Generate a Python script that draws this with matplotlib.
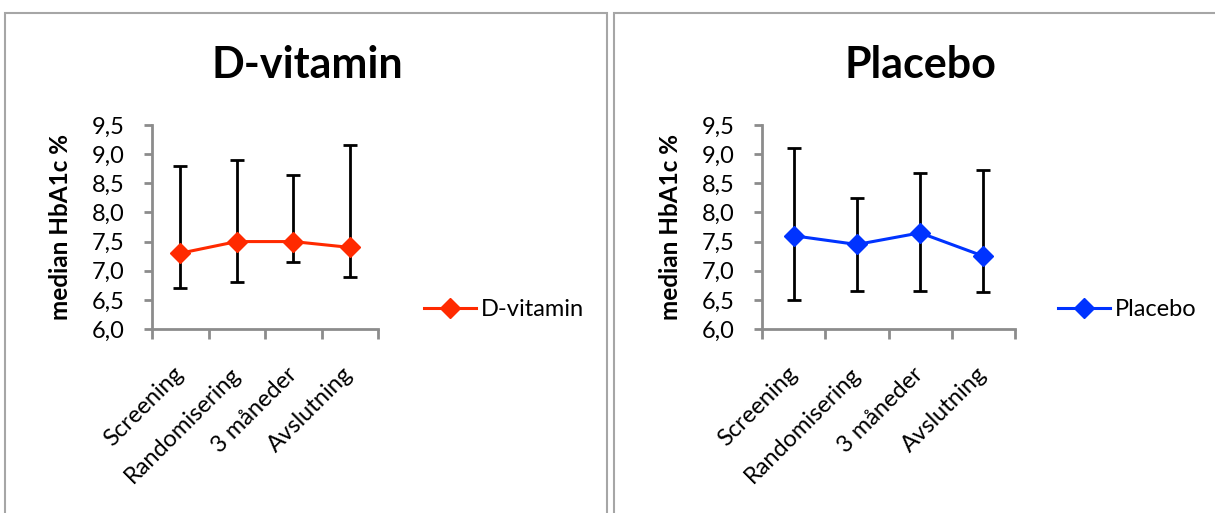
import matplotlib.pyplot as plt
from matplotlib.patches import Rectangle
from matplotlib.ticker import FuncFormatter

plt.rcParams['font.family'] = ['Lato', 'DejaVu Sans']

# Data
categories = ['Screening', 'Randomisering', '3 måneder', 'Avslutning']

dvit_median = [7.3, 7.5, 7.5, 7.4]
dvit_upper = [8.8, 8.9, 8.65, 9.15]
dvit_lower = [6.7, 6.8, 7.15, 6.9]

plac_median = [7.6, 7.45, 7.65, 7.25]
plac_upper = [9.1, 8.25, 8.68, 8.72]
plac_lower = [6.5, 6.65, 6.65, 6.63]

y_ticks = [6.0, 6.5, 7.0, 7.5, 8.0, 8.5, 9.0, 9.5]

fig = plt.figure(figsize=(12.15, 5.13), dpi=100)

# panel frames (chart area borders)
fig.patches.append(Rectangle((5/1215, -0.1), 602/1215, 1.1 - 13/513, transform=fig.transFigure,
                             fill=False, edgecolor='#a6a6a6', lw=1.5))
fig.patches.append(Rectangle((614/1215, -0.1), 0.6, 1.1 - 13/513, transform=fig.transFigure,
                             fill=False, edgecolor='#a6a6a6', lw=1.5))

comma = FuncFormatter(lambda v, p: f'{v:.1f}'.replace('.', ','))


def panel(rect, title, med, up, lo, color, title_x, leg_anchor):
    ax = fig.add_axes(rect)
    x = list(range(len(categories)))
    yerr = [[m - l for m, l in zip(med, lo)], [u - m for m, u in zip(med, up)]]
    ax.errorbar(x, med, yerr=yerr, fmt='none', ecolor='black', elinewidth=2,
                capsize=5, capthick=2, zorder=2)
    ax.plot(x, med, color=color, lw=2.2, marker='D', markersize=10, label=title, zorder=3)

    ax.set_xlim(-0.5, 3.5)
    ax.set_ylim(6.0, 9.5)
    ax.set_yticks(y_ticks)
    ax.yaxis.set_major_formatter(comma)
    ax.set_xticks([-0.5, 0.5, 1.5, 2.5, 3.5])
    ax.set_xticklabels([])
    ax.set_xticks(x, minor=True)
    ax.set_xticklabels(categories, minor=True, rotation=45, ha='right',
                       va='center', rotation_mode='anchor', fontsize=17)
    ax.tick_params(axis='x', which='minor', length=0, pad=30)
    ax.tick_params(axis='x', which='major', length=7, width=2, color='#8c8c8c')
    ax.tick_params(axis='y', length=6, width=2, color='#8c8c8c', labelsize=17, pad=14)

    for s in ['top', 'right']:
        ax.spines[s].set_visible(False)
    for s in ['left', 'bottom']:
        ax.spines[s].set_color('#8c8c8c')
        ax.spines[s].set_linewidth(2)

    ax.set_ylabel('median HbA1c %', fontsize=17.5, fontweight='bold', labelpad=14)
    fig.text(title_x, 1 - 65/513, title, fontsize=31, fontweight='bold',
             ha='center', va='center')
    fig.legend(handles=ax.get_lines()[-1:], loc='center left', bbox_to_anchor=leg_anchor,
               frameon=False, fontsize=17, handlelength=2.2, borderpad=0,
               borderaxespad=0, handletextpad=0.2)
    return ax


panel([152/1215, 1 - 329/513, 226/1215, 204/513], 'D-vitamin',
      dvit_median, dvit_upper, dvit_lower, '#ff2a00', 307/1215, (424/1215, 1 - 310/513))
panel([762/1215, 1 - 329/513, 253/1215, 204/513], 'Placebo',
      plac_median, plac_upper, plac_lower, '#0033ff', 920/1215, (1058/1215, 1 - 310/513))

fig.savefig('out.png', dpi=100)
